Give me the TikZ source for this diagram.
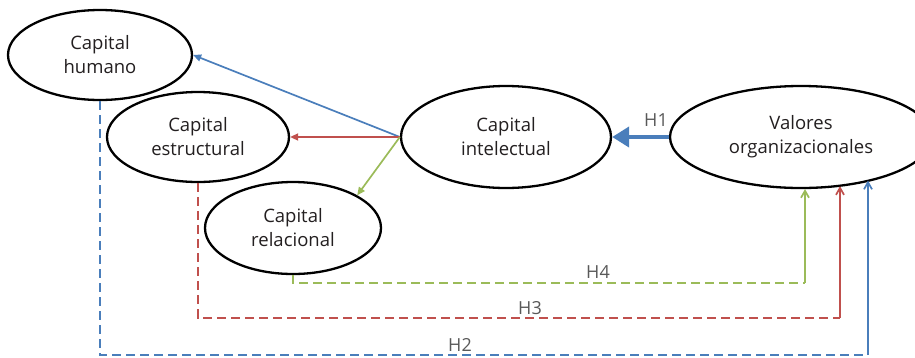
\documentclass[tikz,border=0pt]{standalone}
\usepackage{fontspec}
\setmainfont{Open Sans}
\usetikzlibrary{shapes.geometric,arrows.meta}
\definecolor{hblue}{HTML}{4A7EBB}
\definecolor{hred}{HTML}{C0504D}
\definecolor{hgreen}{HTML}{9BBB59}
\definecolor{txt}{HTML}{231F20}
\definecolor{lab}{HTML}{595959}
\begin{document}
\begin{tikzpicture}[x=1pt, y=-1pt, line width=1.7pt,
  main/.style = {draw, ellipse, line width=2.3pt, inner sep=0pt, align=center, text=txt, font=\fontsize{18.5}{24}\selectfont},
  hlab/.style = {text=lab, inner sep=0pt, font=\fontsize{18}{22}\selectfont},
  hyp/.style = {dash pattern=on 9pt off 5pt},
  >={Triangle[length=8pt,width=7pt]}]
\useasboundingbox (0,0) rectangle (915,357);
\node[main, minimum width=184pt, minimum height=90pt] (ch) at (100,55) {Capital\\humano};
\node[main, minimum width=182pt, minimum height=90pt] (ce) at (198,137) {Capital\\estructural};
\node[main, minimum width=176pt, minimum height=92pt] (cr) at (293,228) {Capital\\relacional};
\node[main, minimum width=210pt, minimum height=102pt] (ci) at (506,137) {Capital\\intelectual};
\node[main, minimum width=262pt, minimum height=102pt] (vo) at (801,137) {Valores\\organizacionales};
% corners of the dashed paths
\coordinate (h4) at (805,283);
\coordinate (h3) at (840,318);
\coordinate (h2) at (868,355);
% capital intelectual and its parts
\draw[->, hblue] (ci.west) -- (ch.east);
\draw[->, hred] (ci.west) -- (ce.east);
\draw[->, hgreen] (ci.west) -- (cr.27);
\draw[-{Triangle[length=17pt,width=20pt]}, hblue, line width=4pt] (vo.west) -- (ci.east);
\node[hlab] (lh1) at (656,120) {H1};
% hypotheses towards the values
\draw[hyp, hgreen] (cr.south) |- (h4);
\draw[-{Straight Barb[length=7pt,width=8pt]}, hgreen] (h4) -- (h4 |- vo.-81);
\node[hlab] (lh4) at (598,272) {H4};
\draw[hyp, hred] (ce.south) |- (h3);
\draw[-{Straight Barb[length=7pt,width=8pt]}, hred] (h3) -- (h3 |- vo.-48);
\node[hlab] (lh3) at (530,308) {H3};
\draw[hyp, hblue] (ch.south) |- (h2);
\draw[-{Straight Barb[length=7pt,width=8pt]}, hblue] (h2) -- (h2 |- vo.-31);
\node[hlab] (lh2) at (460,345) {H2};
\end{tikzpicture}
\end{document}
